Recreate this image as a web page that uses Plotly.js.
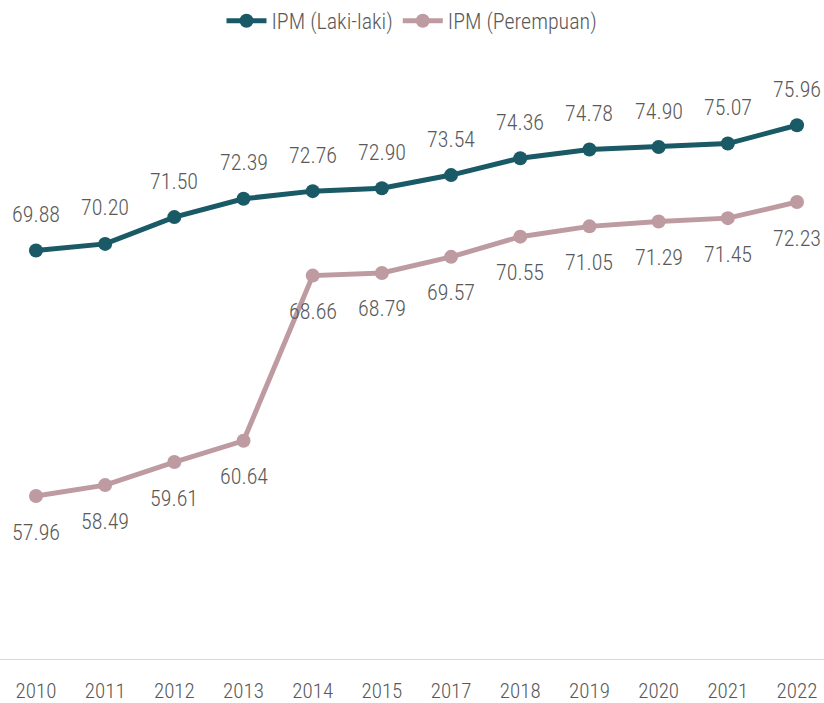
<!DOCTYPE html>
<html>
<head>
<meta charset="utf-8">
<script src="https://cdn.plot.ly/plotly-3.0.1.min.js"></script>
<style>
  html, body { margin: 0; padding: 0; background: #fff; }
  #chart { width: 824px; height: 703px; }
</style>
</head>
<body>
<div id="chart"></div>
<script>
// Data
const years = ['2010', '2011', '2012', '2013', '2014', '2015', '2017', '2018', '2019', '2020', '2021', '2022'];
const ipmLaki = [69.88, 70.20, 71.50, 72.39, 72.76, 72.90, 73.54, 74.36, 74.78, 74.90, 75.07, 75.96];
const ipmPerempuan = [57.96, 58.49, 59.61, 60.64, 68.66, 68.79, 69.57, 70.55, 71.05, 71.29, 71.45, 72.23];

const FONT = '"Roboto Condensed", "Liberation Sans Narrow", Roboto, sans-serif';
const TEXT_COLOR = '#595959';
const LAKI_COLOR = '#1a5966';
const PEREMPUAN_COLOR = '#bd9ba1';

function makeTrace(name, values, color) {
    return {
        x: years,
        y: values,
        name: name,
        type: 'scatter',
        mode: 'lines+markers',
        line: { color: color, width: 5 },
        marker: { color: color, size: 14 },
        cliponaxis: false,
        hoverinfo: 'x+y'
    };
}

// value labels as annotations so they can sit a little further from the points
// (x is the category index: numeric-looking year strings would be read as positions)
function makeLabels(values, shift) {
    return values.map((v, i) => ({
        x: i,
        y: v,
        xref: 'x',
        yref: 'y',
        text: v.toFixed(2),
        showarrow: false,
        yshift: shift,
        font: { family: FONT, size: 22, color: TEXT_COLOR, weight: 300 }
    }));
}

const traces = [
    makeTrace('IPM (Laki-laki)', ipmLaki, LAKI_COLOR),
    makeTrace('IPM (Perempuan)', ipmPerempuan, PEREMPUAN_COLOR)
];

const layout = {
    width: 824,
    height: 703,
    margin: { t: 41, b: 43, l: 0, r: 0 },
    paper_bgcolor: '#fff',
    plot_bgcolor: '#fff',
    font: { family: FONT, color: TEXT_COLOR, weight: 300 },
    showlegend: true,
    legend: {
        orientation: 'h',
        x: 0.5,
        xanchor: 'center',
        y: 1.0,
        yanchor: 'bottom',
        yref: 'paper',
        font: { family: FONT, size: 22, color: TEXT_COLOR, weight: 300 },
        itemwidth: 40,
        tracegroupgap: 0
    },
    xaxis: {
        type: 'category',
        range: [-0.52, 11.39],
        showgrid: false,
        zeroline: false,
        showline: false,
        ticks: '',
        ticklabelstandoff: 16,
        tickfont: { family: FONT, size: 21, color: TEXT_COLOR, weight: 300 },
        fixedrange: true
    },
    yaxis: {
        range: [50, 80],
        showgrid: false,
        zeroline: false,
        showline: false,
        showticklabels: false,
        ticks: '',
        fixedrange: true
    },
    annotations: makeLabels(ipmLaki, 36).concat(makeLabels(ipmPerempuan, -36)),
    shapes: [{
        type: 'line', xref: 'paper', yref: 'y',
        x0: 0, x1: 1, y0: 50, y1: 50,
        line: { color: '#d9d9d9', width: 2 }
    }]
};

Plotly.newPlot('chart', traces, layout, { displayModeBar: false, staticPlot: true });
</script>
</body>
</html>
